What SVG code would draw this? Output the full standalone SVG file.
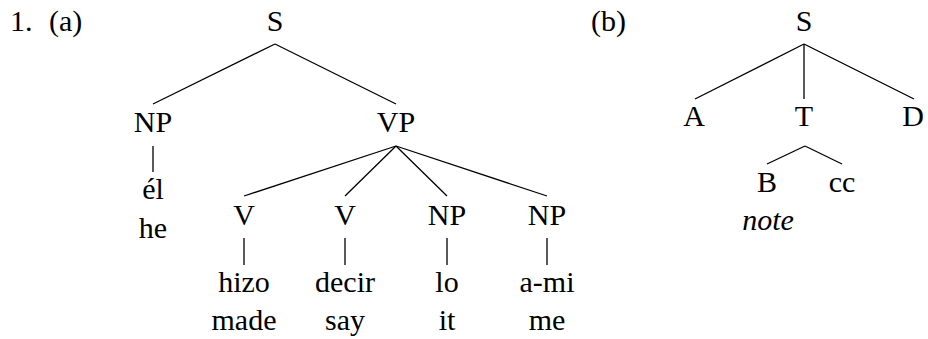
<svg xmlns="http://www.w3.org/2000/svg" width="928" height="339" viewBox="0 0 928 339">
<rect width="928" height="339" fill="#fff"/>
<g id="connectors" stroke="#000" stroke-width="1.3" fill="none">
<line x1="275" y1="44" x2="153" y2="104"/>
<line x1="275" y1="44" x2="396" y2="104"/>
<line x1="153" y1="146" x2="153" y2="172"/>
<line x1="396" y1="146" x2="244" y2="196"/>
<line x1="396" y1="146" x2="345" y2="196"/>
<line x1="396" y1="146" x2="447" y2="196"/>
<line x1="396" y1="146" x2="547" y2="196"/>
<line x1="244" y1="238" x2="244" y2="265"/>
<line x1="345" y1="238" x2="345" y2="265"/>
<line x1="447" y1="238" x2="447" y2="265"/>
<line x1="547" y1="238" x2="547" y2="265"/>
<line x1="804" y1="44" x2="695" y2="99"/>
<line x1="804" y1="44" x2="804" y2="99"/>
<line x1="804" y1="44" x2="914" y2="99"/>
<line x1="805" y1="146" x2="767" y2="164"/>
<line x1="805" y1="146" x2="842" y2="164"/>
</g>
<g id="nodes" font-family="'Liberation Serif', 'Times New Roman', serif" font-size="30" fill="#000" text-anchor="middle">
<g id="labels" text-anchor="start">
<text x="10" y="31">1.</text>
<text x="49" y="31">(a)</text>
<text x="591" y="31">(b)</text>
</g>
<g id="a-S"><text x="275" y="31">S</text></g>
<g id="a-NP"><text x="153" y="132">NP</text></g>
<g id="a-VP"><text x="396" y="132">VP</text></g>
<g id="a-el"><text x="153" y="199">él</text><text x="153" y="238">he</text></g>
<g id="a-V1"><text x="244" y="225">V</text></g>
<g id="a-V2"><text x="345" y="225">V</text></g>
<g id="a-NP3"><text x="447" y="225">NP</text></g>
<g id="a-NP4"><text x="547" y="225">NP</text></g>
<g id="a-hizo"><text x="244" y="292">hizo</text><text x="244" y="330">made</text></g>
<g id="a-decir"><text x="345" y="292">decir</text><text x="345" y="330">say</text></g>
<g id="a-lo"><text x="447" y="292">lo</text><text x="447" y="330">it</text></g>
<g id="a-ami"><text x="547" y="292">a-mi</text><text x="547" y="330">me</text></g>
<g id="b-S"><text x="804" y="31">S</text></g>
<g id="b-A"><text x="694" y="126">A</text></g>
<g id="b-T"><text x="804" y="126">T</text></g>
<g id="b-D"><text x="913" y="126">D</text></g>
<g id="b-B"><text x="767" y="192">B</text><text font-style="italic" x="768" y="230">note</text></g>
<g id="b-cc"><text x="842" y="192">cc</text></g>
</g>
</svg>
